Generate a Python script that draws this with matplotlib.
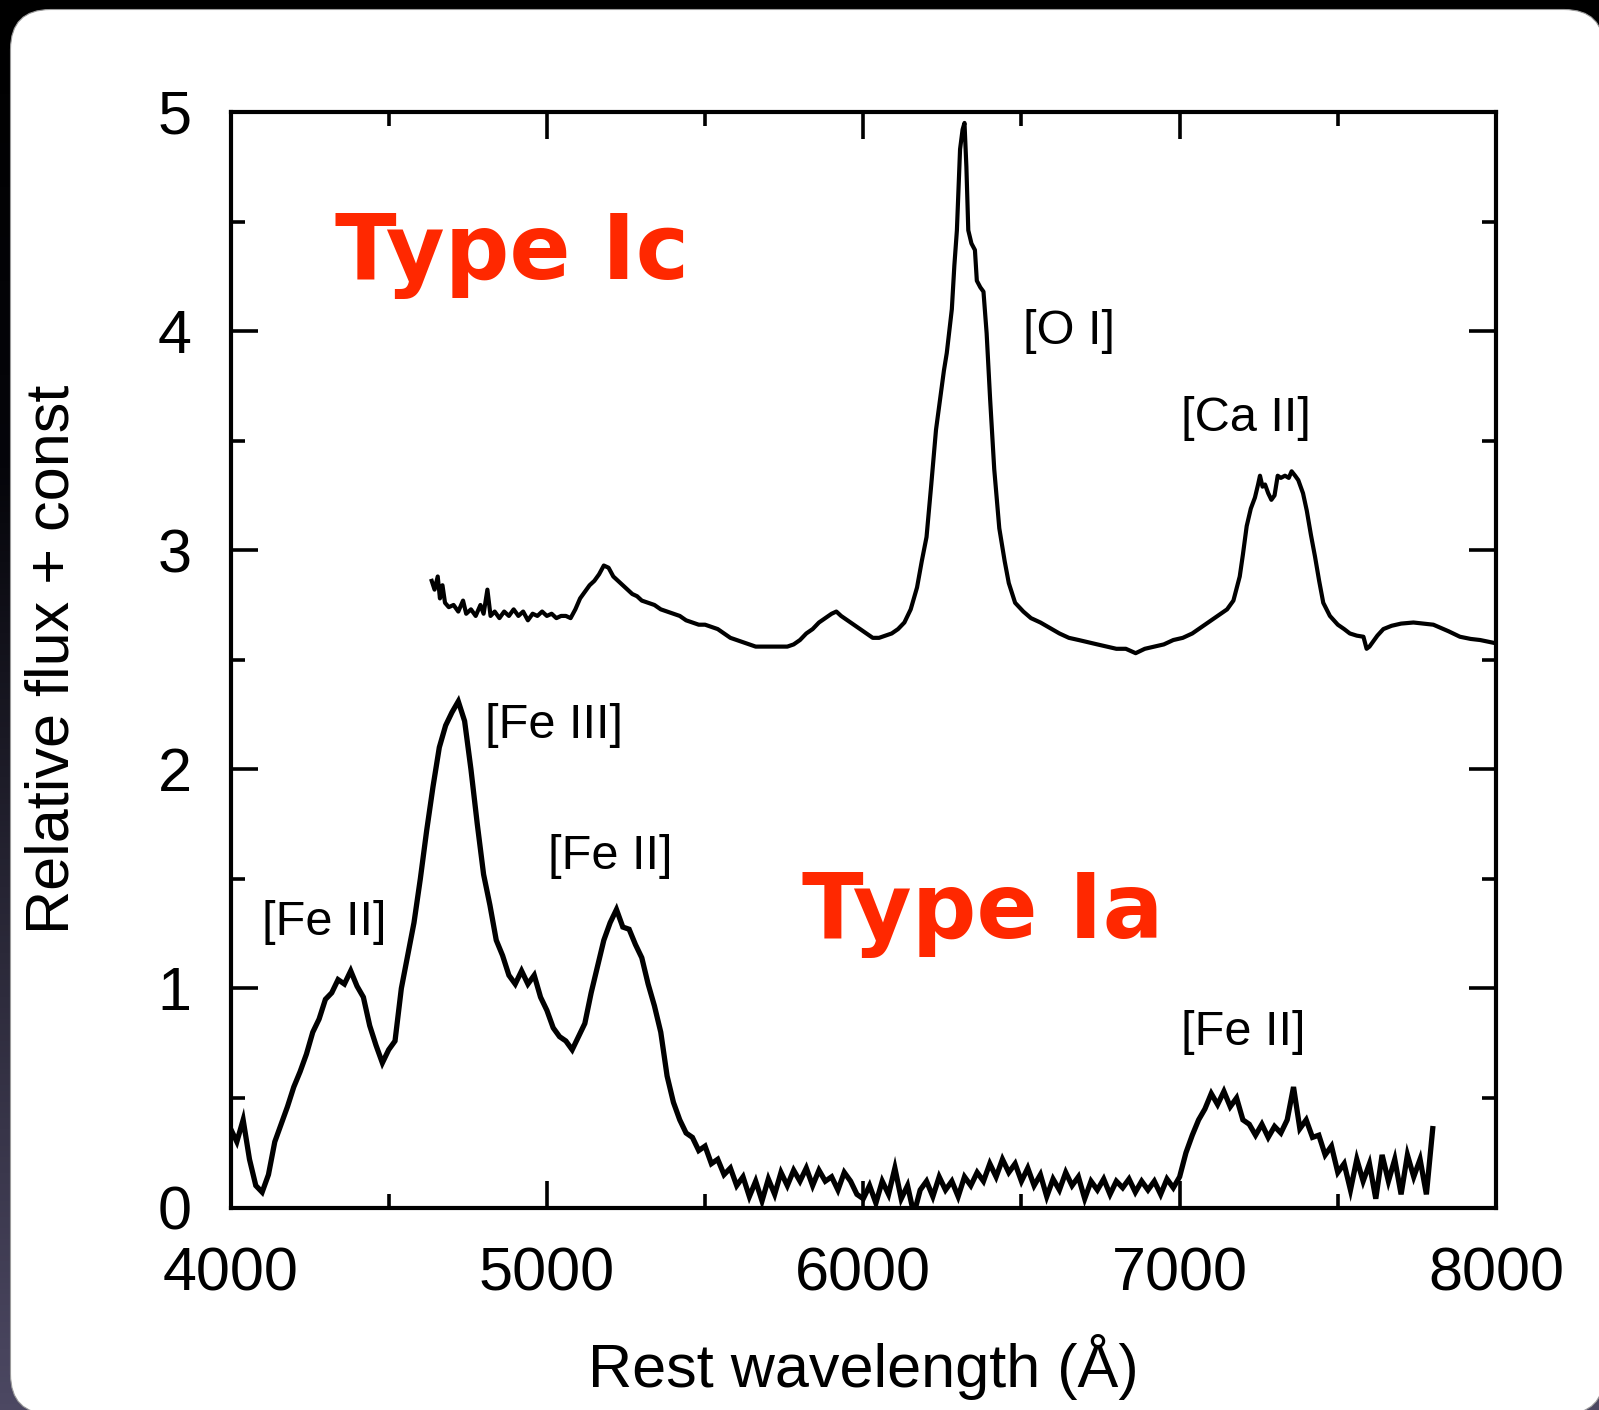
import numpy as np
import matplotlib
matplotlib.use("Agg")
import matplotlib.pyplot as plt
from matplotlib.patches import FancyBboxPatch
from matplotlib.ticker import MultipleLocator

# ---------------- data ----------------
# Type Ic spectrum (offset)
wl_ic = [4636, 4645, 4655, 4662, 4670, 4678, 4690, 4705, 4720, 4735, 4745, 4760,
         4775, 4790, 4800, 4812, 4822, 4835, 4850, 4865, 4880, 4895, 4910, 4925,
         4940, 4955, 4970, 4985, 5000, 5015, 5030, 5045, 5060, 5075, 5090, 5105,
         5120, 5135, 5150, 5165, 5180, 5195, 5210, 5225, 5240, 5255, 5270, 5285,
         5300, 5320, 5340, 5360, 5380, 5400, 5420, 5440, 5460, 5480, 5500, 5520,
         5540, 5560, 5580, 5600, 5620, 5640, 5660, 5680, 5700, 5720, 5740, 5760,
         5780, 5800, 5820, 5840, 5860, 5880, 5900, 5915, 5930, 5950, 5970, 5990,
         6010, 6030, 6050, 6070, 6090, 6110, 6130, 6150, 6170, 6185, 6200, 6215,
         6230, 6243, 6255, 6264, 6272, 6280, 6288, 6296, 6306, 6314, 6320, 6326,
         6332, 6342, 6353, 6359, 6370, 6380, 6390, 6401, 6414, 6430, 6447, 6460,
         6480, 6506, 6530, 6560, 6590, 6620, 6650, 6681, 6710, 6740, 6770, 6800,
         6830, 6861, 6890, 6920, 6950, 6980, 7010, 7040, 7070, 7100, 7130, 7150,
         7170, 7190, 7200, 7212, 7225, 7238, 7248, 7254, 7262, 7270, 7280, 7290,
         7300, 7310, 7320, 7333, 7345, 7354, 7365, 7375, 7390, 7402, 7415, 7428,
         7441, 7454, 7475, 7500, 7520, 7538, 7560, 7581, 7591, 7600, 7610, 7625,
         7644, 7670, 7700, 7739, 7770, 7802, 7850, 7886, 7920, 7950, 8000]
fl_ic = [2.86, 2.82, 2.88, 2.78, 2.84, 2.76, 2.74, 2.75, 2.72, 2.77, 2.71, 2.73,
         2.70, 2.75, 2.71, 2.82, 2.70, 2.72, 2.69, 2.72, 2.70, 2.73, 2.70, 2.72,
         2.68, 2.71, 2.70, 2.72, 2.70, 2.71, 2.69, 2.70, 2.70, 2.69, 2.73, 2.78,
         2.81, 2.84, 2.86, 2.89, 2.93, 2.92, 2.88, 2.86, 2.84, 2.82, 2.80, 2.79,
         2.77, 2.76, 2.75, 2.73, 2.72, 2.71, 2.70, 2.68, 2.67, 2.66, 2.66, 2.65,
         2.64, 2.62, 2.60, 2.59, 2.58, 2.57, 2.56, 2.56, 2.56, 2.56, 2.56, 2.56,
         2.57, 2.59, 2.62, 2.64, 2.67, 2.69, 2.71, 2.72, 2.70, 2.68, 2.66, 2.64,
         2.62, 2.60, 2.60, 2.61, 2.62, 2.64, 2.67, 2.73, 2.83, 2.95, 3.06, 3.30,
         3.55, 3.69, 3.82, 3.90, 4.00, 4.10, 4.30, 4.46, 4.83, 4.92, 4.95, 4.75,
         4.46, 4.40, 4.37, 4.23, 4.20, 4.18, 3.99, 3.69, 3.37, 3.10, 2.95, 2.85,
         2.76, 2.72, 2.69, 2.67, 2.645, 2.62, 2.60, 2.59, 2.58, 2.57, 2.56, 2.55,
         2.55, 2.53, 2.55, 2.56, 2.57, 2.59, 2.60, 2.62, 2.65, 2.68, 2.71, 2.73,
         2.77, 2.88, 2.98, 3.11, 3.19, 3.24, 3.30, 3.34, 3.29, 3.30, 3.26, 3.23,
         3.25, 3.34, 3.33, 3.34, 3.33, 3.36, 3.34, 3.32, 3.26, 3.18, 3.07, 2.97,
         2.86, 2.76, 2.70, 2.66, 2.64, 2.62, 2.61, 2.605, 2.55, 2.56, 2.58, 2.61,
         2.64, 2.655, 2.665, 2.67, 2.665, 2.66, 2.63, 2.605, 2.595, 2.59, 2.575]

# Type Ia spectrum, sampled every 20 A from 4000 to 7800 A
wl_ia = np.arange(4000, 7801, 20)
fl_ia = [0.36, 0.30, 0.40, 0.22, 0.10, 0.07, 0.15, 0.30, 0.38, 0.46,   # 4000-4180
         0.55, 0.62, 0.70, 0.80, 0.86, 0.95, 0.98, 1.04, 1.02, 1.08,   # 4200-4380
         1.01, 0.96, 0.83, 0.74, 0.66, 0.72, 0.76, 1.00, 1.15, 1.30,   # 4400-4580
         1.50, 1.72, 1.92, 2.10, 2.20, 2.26, 2.31, 2.22, 2.00, 1.75,   # 4600-4780
         1.52, 1.38, 1.22, 1.15, 1.06, 1.02, 1.08, 1.02, 1.06, 0.96,   # 4800-4980
         0.90, 0.82, 0.78, 0.76, 0.72, 0.78, 0.84, 0.98, 1.10, 1.22,   # 5000-5180
         1.30, 1.36, 1.28, 1.27, 1.20, 1.14, 1.02, 0.92, 0.80, 0.60,   # 5200-5380
         0.48, 0.40, 0.34, 0.32, 0.26, 0.28, 0.20, 0.22, 0.15, 0.18,   # 5400-5580
         0.10, 0.14, 0.05, 0.12, 0.03, 0.13, 0.06, 0.16, 0.10, 0.17,   # 5600-5780
         0.12, 0.18, 0.10, 0.17, 0.12, 0.14, 0.08, 0.16, 0.12, 0.06,   # 5800-5980
         0.04, 0.10, 0.02, 0.12, 0.06, 0.18, 0.04, 0.10, -0.03, 0.08,  # 6000-6180
         0.12, 0.05, 0.14, 0.08, 0.12, 0.05, 0.14, 0.10, 0.16, 0.12,   # 6200-6380
         0.20, 0.14, 0.22, 0.16, 0.20, 0.12, 0.18, 0.10, 0.15, 0.05,   # 6400-6580
         0.13, 0.08, 0.16, 0.10, 0.14, 0.04, 0.12, 0.08, 0.13, 0.06,   # 6600-6780
         0.12, 0.09, 0.13, 0.07, 0.12, 0.08, 0.12, 0.06, 0.13, 0.09,   # 6800-6980
         0.14, 0.25, 0.33, 0.40, 0.45, 0.52, 0.47, 0.53, 0.46, 0.50,   # 7000-7180
         0.40, 0.38, 0.33, 0.38, 0.32, 0.37, 0.34, 0.40, 0.55, 0.36,   # 7200-7380
         0.40, 0.32, 0.33, 0.24, 0.28, 0.16, 0.20, 0.08, 0.22, 0.12,   # 7400-7580
         0.20, 0.04, 0.24, 0.12, 0.22, 0.06, 0.24, 0.14, 0.22, 0.06,   # 7600-7780
         0.36]                                                          # 7800

# line identifications: (label, x, y)
line_labels = ["[O I]", "[Ca II]", "[Fe III]", "[Fe II]", "[Fe II]", "[Fe II]"]
line_x = [6504, 7004, 4803, 5002, 4100, 7004]
line_y = [4.00, 3.60, 2.20, 1.60, 1.30, 0.80]

type_labels = ["Type Ic", "Type Ia"]
type_x = [4330, 5805]
type_y = [4.238, 1.231]

x_ticks = [4000, 5000, 6000, 7000, 8000]
y_ticks = [0, 1, 2, 3, 4, 5]

# ---------------- figure ----------------
W, H = 1599, 1410
fig = plt.figure(figsize=(W / 100, H / 100), dpi=100)
fig.patch.set_facecolor("#000000")

# background: dark slide with white rounded panel
bg = fig.add_axes([0, 0, 1, 1], zorder=0)
bg.set_xlim(0, W)
bg.set_ylim(H, 0)
bg.axis("off")
grad = np.linspace(0, 1, 256)[:, None]
cmap = matplotlib.colors.LinearSegmentedColormap.from_list(
    "slide", ["#000000", "#05050a", "#2a2838", "#4c4862"])
bg.imshow(grad, cmap=cmap, extent=[0, W, H, 0], aspect="auto", zorder=0)
panel = FancyBboxPatch((10.5, 9.5), W + 5 - 10.5, H + 4 - 9.5,
                       boxstyle="round,pad=0,rounding_size=40",
                       facecolor="white", edgecolor="#9a9a9a", linewidth=0.8,
                       zorder=1)
bg.add_patch(panel)

fam = ["Liberation Sans", "DejaVu Sans"]
ax = fig.add_axes([230.5 / W, 1 - 1207.5 / H, (1496 - 230.5) / W, (1207.5 - 112) / H],
                  zorder=2)
ax.set_facecolor("white")

ax.plot(wl_ic, fl_ic, color="black", lw=3.0, solid_joinstyle="round", zorder=3)
ax.plot(wl_ia, fl_ia, color="black", lw=3.8, solid_joinstyle="miter", zorder=3)

ax.set_xlim(4000, 8000)
ax.set_ylim(0, 5)
ax.set_xticks(x_ticks)
ax.set_yticks(y_ticks)
ax.xaxis.set_minor_locator(MultipleLocator(500))
ax.yaxis.set_minor_locator(MultipleLocator(0.5))
ax.tick_params(which="both", direction="in", top=True, right=True, width=2.6,
               color="black")
ax.tick_params(which="major", length=19.5, pad=28, labelsize=44)
ax.tick_params(which="minor", length=10)
for lab in ax.get_xticklabels() + ax.get_yticklabels():
    lab.set_family(fam)
for sp in ax.spines.values():
    sp.set_linewidth(3.0)

ax.set_xlabel("Rest wavelength (Å)", fontsize=44, family=fam, labelpad=22)
ax.set_ylabel("Relative flux + const", fontsize=44, family=fam, labelpad=55)

for t, x, y in zip(line_labels, line_x, line_y):
    ax.text(x, y, t, fontsize=35, family=fam, ha="left", va="center", zorder=4)

for t, x, y in zip(type_labels, type_x, type_y):
    ax.text(x, y, t, fontsize=65, family=["DejaVu Sans"], fontweight="bold",
            color="#FF2800", ha="left", va="baseline", zorder=4)

fig.savefig("out.png", dpi=100, facecolor=fig.get_facecolor())
